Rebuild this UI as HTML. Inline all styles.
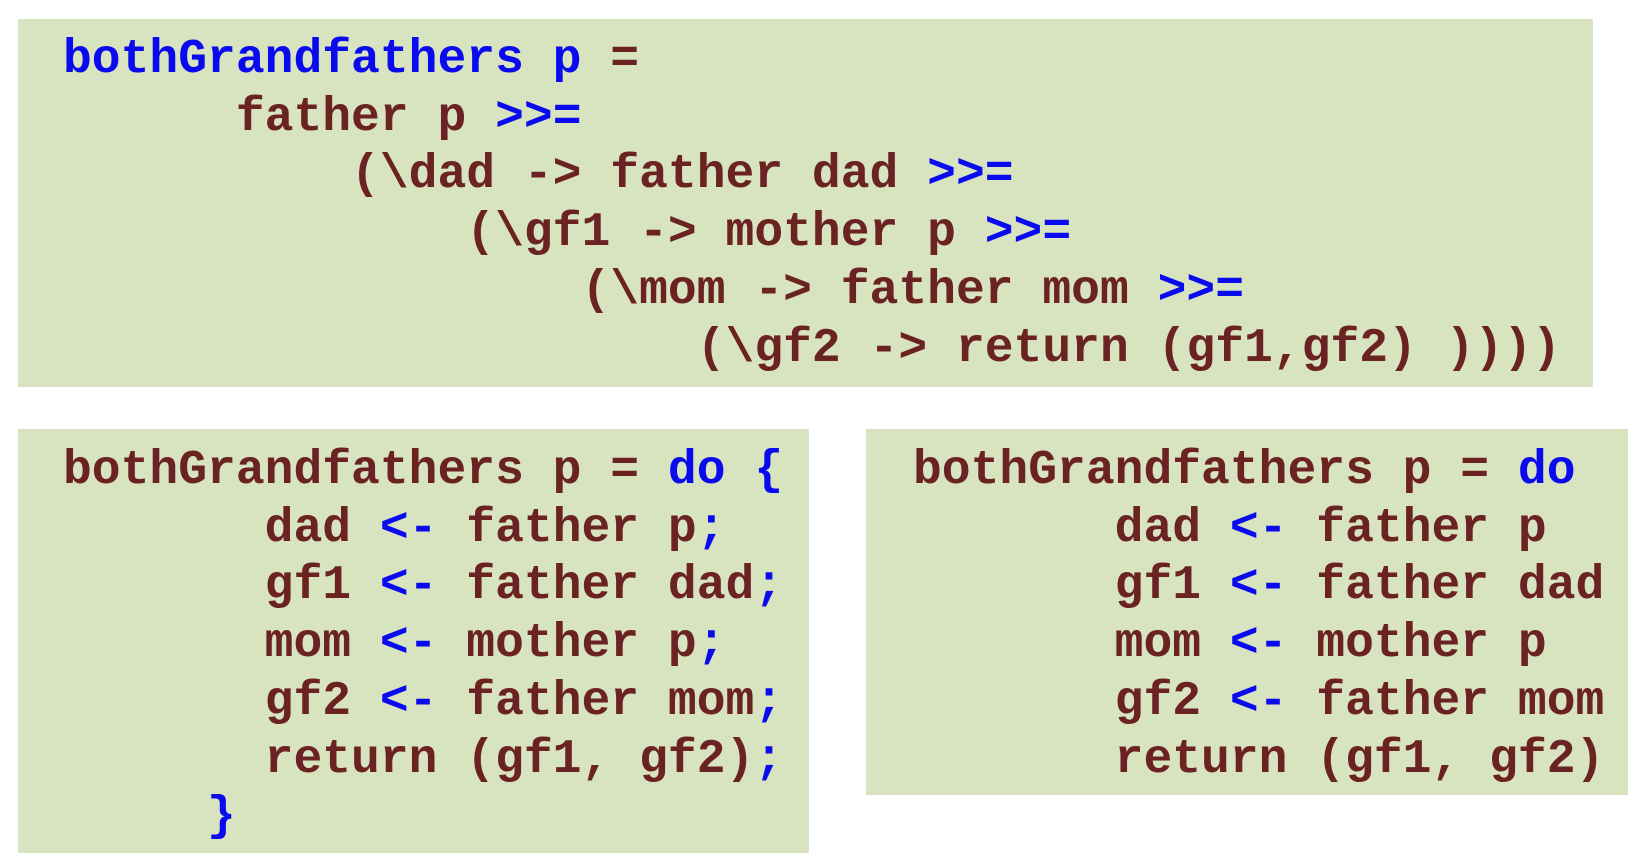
<!DOCTYPE html>
<html><head><meta charset="utf-8"><style>
html,body{margin:0;padding:0;background:#fff;width:1645px;height:865px;overflow:hidden;position:relative}
.box{position:absolute;background:#d8e3bf}
.t{position:absolute;font-family:"Liberation Mono",monospace;font-weight:bold;font-size:48px;line-height:57.7px;white-space:pre;color:#6b2222;margin:0}
.b{color:#0a0aee}
</style></head><body>
<div class="box" style="left:18px;top:19px;width:1575px;height:368px"></div>
<div class="box" style="left:18px;top:429px;width:791px;height:424px"></div>
<div class="box" style="left:866px;top:429px;width:762px;height:366px"></div>
<pre class="t" style="left:63px;top:32px"><span class="b">bothGrandfathers p</span> =
      father p <span class="b">&gt;&gt;=</span>
          (\dad -&gt; father dad <span class="b">&gt;&gt;=</span>
              (\gf1 -&gt; mother p <span class="b">&gt;&gt;=</span>
                  (\mom -&gt; father mom <span class="b">&gt;&gt;=</span>
                      (\gf2 -&gt; return (gf1,gf2) ))))</pre>
<pre class="t" style="left:63px;top:443px">bothGrandfathers p = <span class="b">do {</span>
       dad <span class="b">&lt;-</span> father p<span class="b">;</span>
       gf1 <span class="b">&lt;-</span> father dad<span class="b">;</span>
       mom <span class="b">&lt;-</span> mother p<span class="b">;</span>
       gf2 <span class="b">&lt;-</span> father mom<span class="b">;</span>
       return (gf1, gf2)<span class="b">;</span>
     <span class="b">}</span></pre>
<pre class="t" style="left:913px;top:443px">bothGrandfathers p = <span class="b">do</span>
       dad <span class="b">&lt;-</span> father p
       gf1 <span class="b">&lt;-</span> father dad
       mom <span class="b">&lt;-</span> mother p
       gf2 <span class="b">&lt;-</span> father mom
       return (gf1, gf2)</pre>
</body></html>
